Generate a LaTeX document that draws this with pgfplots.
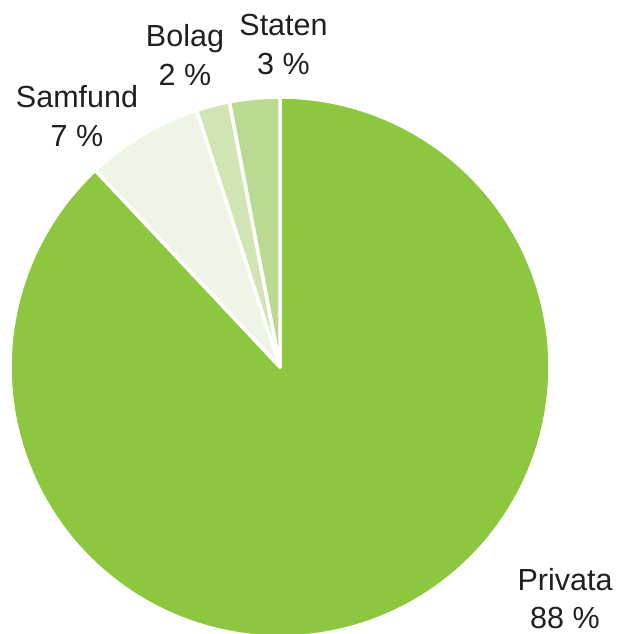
\documentclass[border=0pt]{standalone}
\usepackage{pgfplots}
\pgfplotsset{compat=1.18}
\usepackage{fontspec}
\setmainfont{Liberation Sans}
\definecolor{cPriv}{HTML}{8DC63F}
\definecolor{cSamf}{HTML}{EFF5E6}
\definecolor{cBol}{HTML}{D1E5B4}
\definecolor{cStat}{HTML}{BBDA91}
\definecolor{txt}{HTML}{231F20}
% shares in percent (clockwise from 12 o'clock)
\def\vPriv{88}
\def\vSamf{7}
\def\vBol{2}
\def\vStat{3}
\pgfmathsetmacro{\aA}{90}
\pgfmathsetmacro{\aB}{\aA-3.6*\vPriv}
\pgfmathsetmacro{\aC}{\aB-3.6*\vSamf}
\pgfmathsetmacro{\aD}{\aC-3.6*\vBol}
\pgfmathsetmacro{\aE}{\aD-3.6*\vStat}
\pgfmathsetmacro{\aBB}{\aB+360}
\pgfmathsetmacro{\aCC}{\aC+360}
\pgfmathsetmacro{\aDD}{\aD+360}
\pgfmathsetmacro{\aEE}{\aE+360}
\begin{document}
\begin{tikzpicture}
\useasboundingbox (0,0) rectangle (619pt,634pt);
\begin{axis}[
  at={(0,0)}, anchor=south west,
  width=619pt, height=634pt, scale only axis,
  xmin=0, xmax=619, ymin=0, ymax=634,
  axis lines=none, clip=true,
]
\addplot[fill=cPriv, draw=white, line width=3.5pt, line join=round, domain=\aB:\aA, samples=200, variable=\t]
  ({280+270*cos(\t)}, {267+270*sin(\t)}) -- (axis cs:280,267) -- cycle;
\addplot[fill=cSamf, draw=white, line width=3.5pt, line join=round, domain=\aCC:\aBB, samples=40, variable=\t]
  ({280+270*cos(\t)}, {267+270*sin(\t)}) -- (axis cs:280,267) -- cycle;
\addplot[fill=cBol, draw=white, line width=3.5pt, line join=round, domain=\aDD:\aCC, samples=20, variable=\t]
  ({280+270*cos(\t)}, {267+270*sin(\t)}) -- (axis cs:280,267) -- cycle;
\addplot[fill=cStat, draw=white, line width=3.5pt, line join=round, domain=\aEE:\aDD, samples=20, variable=\t]
  ({280+270*cos(\t)}, {267+270*sin(\t)}) -- (axis cs:280,267) -- cycle;
\end{axis}
\begin{scope}[every node/.style={anchor=base, inner sep=0pt, text=txt, font=\fontsize{30.5}{36}\selectfont}]
\node at (283.5pt,598pt) {Staten};
\node at (283.5pt,559pt) {3 \%};
\node at (185pt,587pt) {Bolag};
\node at (185pt,548pt) {2 \%};
\node at (77pt,526pt) {Samfund};
\node at (77pt,487pt) {7 \%};
\node at (565pt,43pt) {Privata};
\node at (565pt,5.5pt) {88 \%};
\end{scope}
\end{tikzpicture}
\end{document}
